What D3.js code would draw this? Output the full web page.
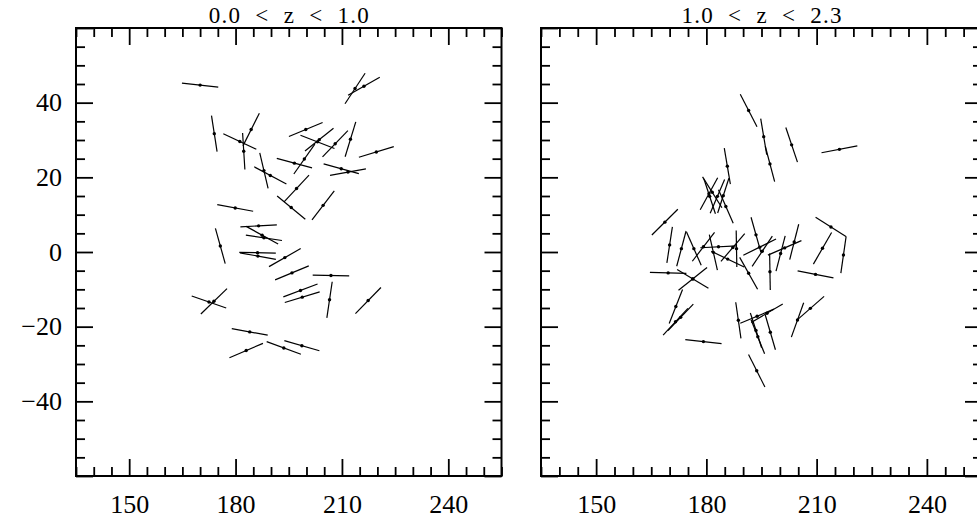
<!DOCTYPE html>
<html>
<head>
<meta charset="utf-8">
<script src="https://cdnjs.cloudflare.com/ajax/libs/d3/7.8.5/d3.min.js"></script>
<style>
  body { margin: 0; background: #fff; }
  svg { display: block; }
  .lbl text { font-family: "Liberation Serif", serif; font-size: 26px; fill: #000; }
  .ttl { font-family: "Liberation Serif", serif; font-size: 23px; fill: #000; white-space: pre; }
</style>
</head>
<body>
<svg id="chart" width="977" height="519"></svg>
<script>
// panel titles and tick labels
const titles = ["0.0  <  z  <  1.0", "1.0  <  z  <  2.3"];
const xLabels = [150, 180, 210, 240];
const yLabels = [-40, -20, 0, 20, 40];

// 0.0 < z < 1.0 : centre x, centre y, position angle (deg, anticlockwise from +x)
const xLo = [170.0, 213.7, 216.2, 174.0, 184.4, 181.2, 182.3, 188.0, 189.8, 199.8,
             203.1, 203.6, 199.4, 208.1, 212.4, 219.7, 196.6, 209.8, 211.7, 197.2,
             195.7, 204.7, 179.9, 186.5, 187.5, 188.0, 175.7, 186.2, 186.3, 193.9,
             195.9, 206.9, 206.5, 198.3, 198.8, 217.4, 172.5, 173.9, 184.0, 183.0,
             193.6, 198.7];
const yLo = [44.7, 43.8, 44.4, 31.7, 32.8, 29.6, 27.0, 21.8, 20.5, 32.8,
             29.5, 30.1, 24.9, 29.0, 30.2, 26.8, 23.8, 22.3, 21.4, 17.0,
             11.9, 12.5, 11.8, 7.0, 4.5, 3.8, 1.6, -0.2, -1.1, -1.5,
             -5.6, -6.3, -12.8, -10.3, -12.1, -13.0, -13.4, -13.2, -21.4, -26.4,
             -25.7, -25.1];
const paLo = [173.8, 56.6, 29.7, 98.8, 63.4, 154.8, 93.6, 103.2, 151.8, 22.6,
              158.8, 38.7, 54.9, 46.0, 73.0, 16.9, 165.1, 164.7, 10.3, 46.9,
              140.5, 52.4, 169.5, 3.1, 151.1, 171.5, 105.6, 178.9, 169.8, 29.7,
              22.6, 178.9, 81.6, 20.5, 17.0, 45.7, 160.9, 44.2, 169.8, 23.2,
              159.7, 163.9];

// 1.0 < z < 2.3
const xHi = [191.5, 195.6, 197.3, 203.2, 216.2, 185.7, 180.7, 181.6, 183.0, 184.6,
             185.3, 180.9, 168.7, 170.0, 173.2, 176.6, 179.2, 181.9, 183.3, 185.8,
             188.2, 187.2, 169.6, 176.3, 176.3, 191.5, 193.5, 194.5, 195.2, 197.3,
             200.2, 201.3, 203.9, 213.9, 211.6, 217.3, 209.7, 171.7, 171.6, 173.0,
             179.2, 188.7, 193.8, 196.5, 194.0, 193.5, 197.4, 193.7, 204.8, 208.3];
const yHi = [37.9, 30.9, 23.6, 28.7, 27.5, 23.0, 15.6, 16.0, 14.9, 15.1,
             12.2, 14.9, 8.0, 1.9, 0.9, 0.9, 1.4, -0.1, 1.4, -1.9,
             0.9, 1.2, -5.6, -7.2, -7.2, -5.7, 4.6, 1.3, 0.2, -5.3,
             -0.4, 1.1, 2.7, 6.7, 1.0, -0.8, -6.0, -14.6, -18.7, -17.5,
             -24.0, -18.3, -17.2, -16.4, -22.7, -21.0, -21.5, -31.8, -18.2, -15.1];
const paHi = [117.3, 99.5, 104.9, 108.6, 10.9, 99.6, 61.4, 122.1, 66.8, 72.1,
              113.7, 108.3, 44.7, 81.3, 75.1, 113.7, 52.5, 102.8, 3.1, 154.6,
              91.0, 49.4, 178.4, 38.6, 149.0, 119.4, 105.7, 26.3, 56.4, 91.0,
              75.5, 23.4, 75.7, 147.4, 60.1, 81.8, 169.0, 68.6, 47.2, 46.1,
              173.8, 98.2, 22.8, 30.4, 111.7, 108.0, 106.3, 116.6, 70.3, 41.3];

const svg = d3.select("#chart");
const yTop = 28, yBot = 476;
const segLen = 36.5;

const panels = [
  { x0: 76,  x1: 501.5, xs: xLo, ys: yLo, pa: paLo, title: titles[0], yLab: true },
  { x0: 541, x1: 982,   xs: xHi, ys: yHi, pa: paHi, title: titles[1], yLab: false }
];

const xMajor = d3.range(135, 256, 5).filter(v => v % 30 === 0);
const xMinor = d3.range(135, 256, 5).filter(v => v % 30 !== 0);
const yMajor = d3.range(-60, 61, 5).filter(v => v % 20 === 0);
const yMinor = d3.range(-60, 61, 5).filter(v => v % 20 !== 0);

panels.forEach(p => {
  const x = d3.scaleLinear().domain([135, 255]).range([p.x0, p.x1]);
  const y = d3.scaleLinear().domain([-60, 60]).range([yBot, yTop]);
  const g = svg.append("g");

  // tick marks pointing inward on all four sides
  function ticks(axisFn, scale, vals, size, tx, ty) {
    g.append("g")
      .attr("transform", `translate(${tx},${ty})`)
      .call(axisFn(scale).tickValues(vals).tickSize(-size).tickFormat(""))
      .call(s => s.select(".domain").remove())
      .selectAll("line").attr("stroke", "#000").attr("stroke-width", 1.8);
  }
  [[xMajor, 17], [xMinor, 9]].forEach(([v, s]) => {
    ticks(d3.axisBottom, x, v, s, 0, yBot);
    ticks(d3.axisTop, x, v, s, 0, yTop);
  });
  [[yMajor, 17], [yMinor, 9]].forEach(([v, s]) => {
    ticks(d3.axisLeft, y, v, s, p.x0, 0);
    ticks(d3.axisRight, y, v, s, p.x1, 0);
  });

  g.append("rect")
    .attr("x", p.x0).attr("y", yTop)
    .attr("width", p.x1 - p.x0).attr("height", yBot - yTop)
    .attr("fill", "none").attr("stroke", "#000").attr("stroke-width", 2);

  // labels
  g.append("g").attr("class", "lbl")
    .attr("transform", `translate(0,${yBot})`)
    .call(d3.axisBottom(x).tickValues(xLabels).tickSize(0))
    .call(s => {
      s.select(".domain").remove();
      s.selectAll("text").attr("y", 37).attr("dy", null);
    });
  if (p.yLab) {
    g.append("g").attr("class", "lbl")
      .attr("transform", `translate(${p.x0},0)`)
      .call(d3.axisLeft(y).tickValues(yLabels).tickSize(0).tickPadding(14))
      .call(s => s.select(".domain").remove());
  }

  g.append("text").attr("class", "ttl")
    .attr("x", (p.x0 + p.x1) / 2).attr("y", 23)
    .attr("text-anchor", "middle")
    .attr("textLength", 160).attr("lengthAdjust", "spacing")
    .text(p.title);

  // polarisation vectors
  const data = d3.range(p.xs.length).map(i => ({ cx: x(p.xs[i]), cy: y(p.ys[i]), t: p.pa[i] * Math.PI / 180 }));
  g.append("g").selectAll("line").data(data).enter().append("line")
    .attr("x1", d => d.cx - Math.cos(d.t) * segLen / 2)
    .attr("y1", d => d.cy + Math.sin(d.t) * segLen / 2)
    .attr("x2", d => d.cx + Math.cos(d.t) * segLen / 2)
    .attr("y2", d => d.cy - Math.sin(d.t) * segLen / 2)
    .attr("stroke", "#000").attr("stroke-width", 1.2);
  g.append("g").selectAll("circle").data(data).enter().append("circle")
    .attr("cx", d => d.cx).attr("cy", d => d.cy).attr("r", 1.7).attr("fill", "#000");
});
</script>
</body>
</html>
